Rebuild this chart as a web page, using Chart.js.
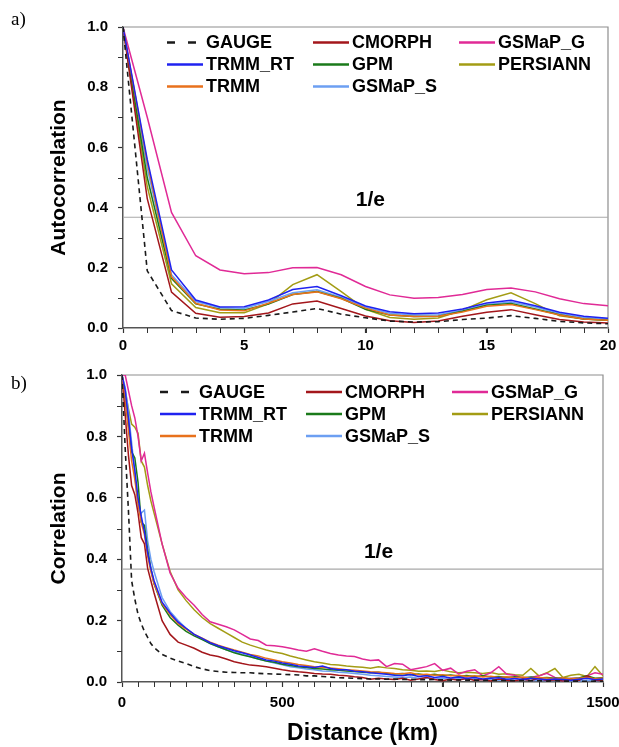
<!DOCTYPE html>
<html lang="en">
<head>
    <meta charset="UTF-8">
    <title>Autocorrelation and spatial correlation of rainfall products</title>
    <script src="https://cdn.jsdelivr.net/npm/chart.js"></script>
    <style>
        body {
            margin: 0;
            padding: 0;
            background-color: #fff;
        }

        #wrap {
            position: relative;
            width: 619px;
            height: 747px;
        }

        .panel {
            position: absolute;
            left: 0;
        }
    </style>
</head>
<body>
    <div id="wrap">
        <canvas id="chartA" class="panel" style="top:0" width="619" height="355"></canvas>
        <canvas id="chartB" class="panel" style="top:355px" width="619" height="392"></canvas>
    </div>

    <script>
        // ---- panel a) autocorrelation vs lag ----
        const lagSteps = [0, 1, 2, 3, 4, 5, 6, 7, 8, 9, 10, 11, 12, 13, 14, 15, 16, 17, 18, 19, 20];
        const acfGauge    = [1.0, 0.19, 0.058, 0.033, 0.029, 0.032, 0.042, 0.053, 0.065, 0.046, 0.034, 0.023, 0.020, 0.021, 0.028, 0.033, 0.041, 0.032, 0.022, 0.017, 0.014];
        const acfCmorph   = [1.0, 0.43, 0.119, 0.049, 0.036, 0.038, 0.050, 0.080, 0.090, 0.065, 0.040, 0.024, 0.018, 0.023, 0.039, 0.052, 0.061, 0.044, 0.028, 0.020, 0.017];
        const acfTrmmRt   = [1.0, 0.56, 0.193, 0.093, 0.070, 0.071, 0.093, 0.128, 0.138, 0.107, 0.073, 0.054, 0.047, 0.050, 0.063, 0.083, 0.092, 0.074, 0.052, 0.039, 0.032];
        const acfGsmapS   = [1.0, 0.53, 0.177, 0.088, 0.067, 0.066, 0.088, 0.117, 0.127, 0.102, 0.069, 0.049, 0.043, 0.044, 0.058, 0.078, 0.086, 0.070, 0.048, 0.035, 0.030];
        const acfTrmm     = [1.0, 0.55, 0.170, 0.082, 0.060, 0.057, 0.082, 0.111, 0.120, 0.097, 0.066, 0.043, 0.038, 0.039, 0.053, 0.072, 0.078, 0.061, 0.043, 0.030, 0.026];
        const acfGpm      = [1.0, 0.50, 0.165, 0.080, 0.062, 0.060, 0.080, 0.111, 0.121, 0.099, 0.062, 0.043, 0.038, 0.039, 0.056, 0.076, 0.081, 0.063, 0.044, 0.030, 0.026];
        const acfPersiann = [1.0, 0.47, 0.147, 0.068, 0.051, 0.051, 0.080, 0.144, 0.177, 0.121, 0.062, 0.035, 0.029, 0.033, 0.059, 0.094, 0.117, 0.081, 0.041, 0.030, 0.026];
        const acfGsmapG   = [1.0, 0.70, 0.384, 0.240, 0.193, 0.180, 0.184, 0.200, 0.201, 0.177, 0.138, 0.110, 0.099, 0.101, 0.111, 0.128, 0.133, 0.120, 0.097, 0.081, 0.074];
        const lagTicks = [0, 5, 10, 15, 20];

        // ---- panel b) correlation vs distance (km) ----
        const distKm = [0, 10, 20, 30, 40, 50, 60, 70, 80, 90,
            100, 125, 150, 175, 200, 225, 250, 275, 300, 325, 350, 375, 400, 425, 450, 475, 500,
            525, 550, 575, 600, 625, 650, 675, 700, 725, 750, 775, 800, 825, 850, 875, 900, 925,
            950, 975, 1000, 1025, 1050, 1075, 1100, 1125, 1150, 1175, 1200, 1225, 1250, 1275, 1300,
            1325, 1350, 1375, 1400, 1425, 1450, 1475, 1500];
        const corrGauge = [1.0, 0.76, 0.56, 0.33, 0.27, 0.22, 0.19, 0.165, 0.145, 0.125,
            0.112, 0.09, 0.078, 0.068, 0.06, 0.05, 0.043, 0.037, 0.034, 0.032, 0.031, 0.03, 0.03, 0.028, 0.027, 0.026, 0.025,
            0.024, 0.023, 0.02, 0.02, 0.018, 0.016, 0.014, 0.013,
            0.012, 0.011, 0.01, 0.01, 0.009, 0.01, 0.008, 0.009, 0.008, 0.007, 0.008, 0.007, 0.006, 0.007, 0.006, 0.006,
            0.005, 0.006, 0.005, 0.005, 0.004, 0.005, 0.004, 0.004, 0.003, 0.004, 0.003, 0.003, 0.003, 0.002, 0.003, 0.002];
        const corrCmorph = [1.0, 0.87, 0.74, 0.64, 0.61, 0.55, 0.47, 0.45, 0.37, 0.33,
            0.29, 0.2, 0.155, 0.13, 0.12, 0.11, 0.097, 0.088, 0.083, 0.075, 0.066, 0.06, 0.055, 0.053, 0.05, 0.045, 0.04,
            0.036, 0.033, 0.031, 0.028, 0.026, 0.025, 0.022, 0.02,
            0.017, 0.015, 0.009, 0.012, 0.01, 0.008, 0.012, 0.006, 0.01, 0.015, 0.008, 0.004, 0.01, 0.006, 0.012, 0.005,
            0.008, 0.003, 0.01, 0.006, 0.004, 0.009, 0.005, 0.012, 0.004, 0.007, 0.003, 0.008, 0.005, 0.02, 0.006, 0.004];
        const corrTrmmRt = [1.0, 0.95, 0.86, 0.76, 0.69, 0.6, 0.54, 0.49, 0.42, 0.37,
            0.33, 0.26, 0.225, 0.195, 0.175, 0.155, 0.142, 0.128, 0.118, 0.11, 0.102, 0.095, 0.088, 0.08, 0.072, 0.068, 0.062,
            0.058, 0.052, 0.05, 0.047, 0.052, 0.044, 0.04, 0.04,
            0.035, 0.033, 0.03, 0.028, 0.025, 0.022, 0.02, 0.024, 0.018, 0.02, 0.015, 0.018, 0.013, 0.016, 0.012, 0.015,
            0.01, 0.012, 0.014, 0.009, 0.011, 0.008, 0.012, 0.01, 0.007, 0.01, 0.008, 0.006, 0.009, 0.012, 0.007, 0.01];
        const corrTrmm = [1.0, 0.93, 0.82, 0.72, 0.66, 0.58, 0.52, 0.48, 0.41, 0.36,
            0.32, 0.255, 0.22, 0.19, 0.172, 0.155, 0.143, 0.13, 0.12, 0.112, 0.104, 0.097, 0.09, 0.085, 0.077, 0.072, 0.066,
            0.062, 0.057, 0.054, 0.05, 0.048, 0.046, 0.043, 0.04,
            0.038, 0.036, 0.033, 0.032, 0.03, 0.028, 0.027, 0.03, 0.024, 0.025, 0.022, 0.024, 0.02, 0.022, 0.018, 0.02,
            0.016, 0.019, 0.015, 0.017, 0.014, 0.016, 0.012, 0.015, 0.013, 0.011, 0.014, 0.01, 0.012, 0.015, 0.011, 0.013];
        const corrGpm = [1.0, 0.92, 0.84, 0.75, 0.73, 0.65, 0.52, 0.51, 0.43, 0.37,
            0.32, 0.25, 0.21, 0.185, 0.165, 0.15, 0.138, 0.125, 0.115, 0.105, 0.095, 0.088, 0.082, 0.075, 0.068, 0.064, 0.058,
            0.054, 0.05, 0.047, 0.044, 0.042, 0.04, 0.038, 0.036,
            0.034, 0.032, 0.03, 0.032, 0.028, 0.026, 0.028, 0.024, 0.026, 0.022, 0.025, 0.02, 0.023, 0.019, 0.021, 0.017,
            0.02, 0.016, 0.018, 0.015, 0.017, 0.014, 0.016, 0.013, 0.015, 0.012, 0.014, 0.011, 0.013, 0.02, 0.012, 0.014];
        const corrGsmapS = [1.0, 0.96, 0.88, 0.78, 0.68, 0.56, 0.55, 0.56, 0.46, 0.4,
            0.36, 0.275, 0.23, 0.2, 0.175, 0.155, 0.14, 0.125, 0.115, 0.105, 0.097, 0.09, 0.082, 0.075, 0.068, 0.062, 0.056,
            0.05, 0.046, 0.042, 0.04, 0.036, 0.035, 0.032, 0.03,
            0.028, 0.025, 0.022, 0.02, 0.018, 0.016, 0.014, 0.016, 0.012, 0.013, 0.01, 0.012, 0.009, 0.011, 0.008, 0.01,
            0.007, 0.009, 0.006, 0.008, 0.005, 0.007, 0.005, 0.006, 0.004, 0.006, 0.004, 0.005, 0.003, 0.006, 0.004, 0.005];
        const corrPersiann = [1.0, 0.95, 0.89, 0.84, 0.83, 0.81, 0.72, 0.7, 0.64, 0.59,
            0.55, 0.45, 0.36, 0.3, 0.265, 0.235, 0.21, 0.19, 0.175, 0.16, 0.145, 0.13, 0.12, 0.112, 0.104, 0.098, 0.093,
            0.085, 0.078, 0.072, 0.066, 0.062, 0.057, 0.055, 0.052,
            0.05, 0.048, 0.045, 0.05, 0.046, 0.044, 0.04, 0.038, 0.035, 0.036, 0.034, 0.039, 0.033, 0.03, 0.032, 0.03,
            0.028, 0.031, 0.025, 0.027, 0.024, 0.022, 0.044, 0.02, 0.03, 0.044, 0.015, 0.022, 0.025, 0.018, 0.05, 0.02];
        const corrGsmapG = [1.0, 1.0, 0.95, 0.9, 0.86, 0.8, 0.72, 0.745, 0.68, 0.62,
            0.57, 0.45, 0.355, 0.305, 0.275, 0.25, 0.22, 0.196, 0.188, 0.18, 0.17, 0.155, 0.14, 0.135, 0.12, 0.118, 0.115,
            0.11, 0.104, 0.1, 0.108, 0.1, 0.093, 0.088, 0.085,
            0.083, 0.075, 0.07, 0.072, 0.05, 0.06, 0.058, 0.04, 0.045, 0.05, 0.06, 0.038, 0.045, 0.026, 0.035, 0.04,
            0.02, 0.03, 0.05, 0.025, 0.022, 0.012, 0.015, 0.02, 0.028, 0.015, 0.007, 0.012, 0.012, 0.02, 0.03, 0.025];
        const distTicks = [0, 500, 1000, 1500];
        const corrTicks = [0, 0.2, 0.4, 0.6, 0.8, 1.0];

        // legend order is column by column, like the figure
        const productNames = ['GAUGE', 'TRMM_RT', 'TRMM', 'CMORPH', 'GPM', 'GSMaP_S', 'GSMaP_G', 'PERSIANN'];
        const lineColors = {
            GAUGE: '#1a1a1a', TRMM_RT: '#1f22f0', TRMM: '#e8711c', CMORPH: '#a3161b',
            GPM: '#1a7a1a', GSMaP_S: '#6c9ff2', GSMaP_G: '#e02a96', PERSIANN: '#a39c14'
        };
        const FONT = 'Arial, "Liberation Sans", sans-serif';

        function buildSets(xs, byName) {
            return productNames.map(name => ({
                label: name,
                data: xs.map((x, i) => ({ x: x, y: byName[name][i] })),
                borderColor: lineColors[name],
                backgroundColor: lineColors[name],
                borderWidth: name === 'GAUGE' ? 1.6 : 1.5,
                borderDash: name === 'GAUGE' ? [5, 4] : [],
                pointRadius: 0,
                tension: 0,
                fill: false
            }));
        }

        function makeScales(cfg) {
            const tickFont = { family: FONT, size: 15, weight: 'bold' };
            const grid = { drawOnChartArea: false, drawTicks: true, tickLength: 5, tickColor: '#333', tickWidth: 1.2 };
            const border = { display: true, color: '#555', width: 1.5 };
            return {
                x: {
                    type: 'linear', min: 0, max: cfg.xTicks[cfg.xTicks.length - 1],
                    afterBuildTicks: s => { s.ticks = cfg.xTicks.map(v => ({ value: v })); },
                    ticks: { color: '#000', font: tickFont, padding: cfg.xPad, maxRotation: 0, autoSkip: false, callback: v => String(v) },
                    grid: grid, border: border,
                    title: cfg.xTitle
                        ? { display: true, text: cfg.xTitle, color: '#000', font: { family: FONT, size: 23, weight: 'bold' }, padding: 0 }
                        : { display: false },
                    afterFit: s => { s.height = cfg.xHeight; s.paddingLeft = 0; s.paddingRight = 0; }
                },
                y: {
                    min: 0, max: 1,
                    afterBuildTicks: s => { s.ticks = corrTicks.map(v => ({ value: v })); },
                    ticks: { color: '#000', font: tickFont, padding: 10, callback: v => v.toFixed(1) },
                    grid: grid, border: border,
                    title: { display: true, text: cfg.yTitle, color: '#000', font: { family: FONT, size: 21, weight: 'bold' }, padding: 0 },
                    afterFit: s => { s.width = cfg.yWidth; s.paddingTop = 0; s.paddingBottom = 0; }
                }
            };
        }

        // frame, minor ticks, 1/e line, in-plot legend and panel letter
        const decorations = {
            id: 'decorations',
            beforeDatasetsDraw(chart, args, o) {
                const { ctx, chartArea: a, scales: { x, y } } = chart;
                ctx.save();
                ctx.strokeStyle = '#8e8e8e';
                ctx.lineWidth = 1.2;
                ctx.beginPath();
                ctx.moveTo(a.left, a.top);
                ctx.lineTo(a.right, a.top);
                ctx.lineTo(a.right, a.bottom);
                ctx.stroke();

                const ey = y.getPixelForValue(1 / Math.E);
                ctx.strokeStyle = '#a8a8a8';
                ctx.lineWidth = 1.2;
                ctx.beginPath();
                ctx.moveTo(a.left, ey);
                ctx.lineTo(a.right, ey);
                ctx.stroke();

                ctx.fillStyle = '#000';
                ctx.font = 'bold 21px ' + FONT;
                ctx.textAlign = 'center';
                ctx.textBaseline = 'middle';
                ctx.fillText('1/e', x.getPixelForValue(o.eAt), ey - 17);

                // minor ticks
                ctx.strokeStyle = '#333';
                ctx.lineWidth = 1;
                ctx.beginPath();
                for (let k = 1; k * o.xMinor < x.max; k++) {
                    const px = Math.round(x.getPixelForValue(k * o.xMinor)) + 0.5;
                    ctx.moveTo(px, a.bottom);
                    ctx.lineTo(px, a.bottom + 5);
                }
                for (let k = 1; k < 10; k += 2) {
                    const py = Math.round(y.getPixelForValue(k / 10)) + 0.5;
                    ctx.moveTo(a.left, py);
                    ctx.lineTo(a.left - 5, py);
                }
                ctx.stroke();
                ctx.restore();
            },
            afterDraw(chart, args, o) {
                const { ctx } = chart;
                ctx.save();
                ctx.font = 'bold 18px ' + FONT;
                ctx.textAlign = 'left';
                ctx.textBaseline = 'middle';
                chart.data.datasets.forEach((ds, i) => {
                    const lx = o.cols[Math.floor(i / 3)];
                    const ly = o.rows[i % 3];
                    ctx.strokeStyle = ds.borderColor;
                    ctx.lineWidth = 2.6;
                    ctx.setLineDash(ds.borderDash.length ? [8, 13] : []);
                    ctx.beginPath();
                    ctx.moveTo(lx, ly);
                    ctx.lineTo(lx + 36, ly);
                    ctx.stroke();
                    ctx.setLineDash([]);
                    ctx.fillStyle = '#000';
                    ctx.fillText(ds.label, lx + 39, ly + 1);
                });
                ctx.font = '19px "Liberation Serif", "Times New Roman", serif';
                ctx.fillText(o.letter, 11, o.letterY);
                ctx.restore();
            }
        };

        function baseOptions(scales, pad, deco) {
            return {
                responsive: false,
                animation: false,
                layout: { padding: pad },
                scales: scales,
                plugins: {
                    legend: { display: false },
                    tooltip: { enabled: false },
                    decorations: deco
                }
            };
        }

        new Chart(document.getElementById('chartA'), {
            type: 'line',
            data: {
                datasets: buildSets(lagSteps, {
                    GAUGE: acfGauge, TRMM_RT: acfTrmmRt, TRMM: acfTrmm, CMORPH: acfCmorph,
                    GPM: acfGpm, GSMaP_S: acfGsmapS, GSMaP_G: acfGsmapG, PERSIANN: acfPersiann
                })
            },
            options: baseOptions(
                makeScales({ xTicks: lagTicks, xPad: 4, xHeight: 27, yWidth: 76, yTitle: 'Autocorrelation' }),
                { left: 47, top: 27, right: 11, bottom: 0 },
                { xMinor: 1, eAt: 10.2, cols: [167, 313, 459], rows: [42.5, 64.5, 86.5], letter: 'a)', letterY: 20 }
            ),
            plugins: [decorations]
        });

        new Chart(document.getElementById('chartB'), {
            type: 'line',
            data: {
                datasets: buildSets(distKm, {
                    GAUGE: corrGauge, TRMM_RT: corrTrmmRt, TRMM: corrTrmm, CMORPH: corrCmorph,
                    GPM: corrGpm, GSMaP_S: corrGsmapS, GSMaP_G: corrGsmapG, PERSIANN: corrPersiann
                })
            },
            options: baseOptions(
                makeScales({ xTicks: distTicks, xPad: 7, xHeight: 65, yWidth: 75, yTitle: 'Correlation', xTitle: 'Distance (km)' }),
                { left: 47, top: 20, right: 16, bottom: 0 },
                { xMinor: 50, eAt: 800, cols: [160, 306, 452], rows: [37, 59, 81], letter: 'b)', letterY: 29 }
            ),
            plugins: [decorations]
        });
    </script>
</body>
</html>
